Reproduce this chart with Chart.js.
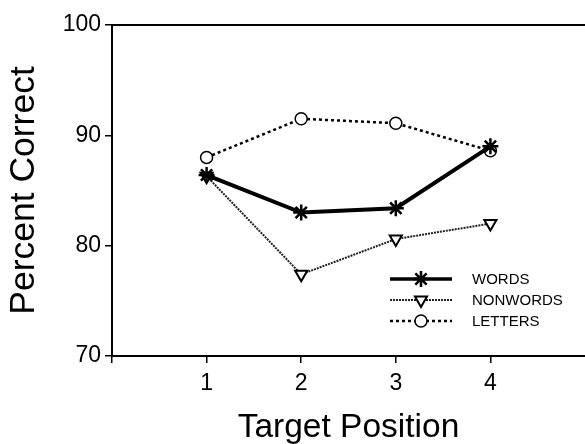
<!DOCTYPE html>
<html><head><meta charset="utf-8">
<style>html,body{margin:0;padding:0;background:#fff;overflow:hidden;}</style>
<script src="https://cdn.jsdelivr.net/npm/chart.js@4"></script>
</head><body>
<canvas id="c" width="585" height="444"></canvas>
<script>
// ---- data ----
const positions = [1, 2, 3, 4];
const xTickValues = [0, 1, 2, 3, 4];
const yTickValues = [70, 80, 90, 100];
const words = [86.4, 83.0, 83.4, 89.0];
const nonwords = [86.3, 77.4, 80.6, 82.0];
const letters = [88.0, 91.5, 91.1, 88.6];
const seriesNames = ['WORDS', 'NONWORDS', 'LETTERS'];
const xTitle = 'Target Position';
const yTitle = 'Percent Correct';

const FONT = "'Liberation Sans', Arial, Helvetica, sans-serif";
const toPts = vals => positions.map((p, i) => ({x: p, y: vals[i]}));

const datasets = [
  {label: seriesNames[0], data: toPts(words), borderColor: '#000', borderWidth: 4,
   pointStyle: 'star', pointRadius: 8, pointBorderWidth: 2.5, pointBackgroundColor: '#000',
   pointBorderColor: '#000', legendLineWidth: 3.5, legendDash: []},
  {label: seriesNames[1], data: toPts(nonwords), borderColor: '#222', borderWidth: 2,
   borderDash: [2, 1], pointStyle: 'triangle', pointRotation: 180, pointRadius: 7,
   pointBorderWidth: 2, pointBackgroundColor: '#fff', pointBorderColor: '#000',
   legendLineWidth: 2, legendDash: [2, 1]},
  {label: seriesNames[2], data: toPts(letters), borderColor: '#000', borderWidth: 2.5,
   borderDash: [3, 3], pointStyle: 'circle', pointRadius: 6, pointBorderWidth: 1.5,
   pointBackgroundColor: '#fff', pointBorderColor: '#000', legendLineWidth: 2.5, legendDash: [3, 3]}
];

const frame = {
  id: 'frame',
  afterDraw(chart) {
    const ctx = chart.ctx, a = chart.chartArea;
    ctx.save();
    ctx.strokeStyle = '#000'; ctx.lineWidth = 2;
    ctx.beginPath(); ctx.moveTo(a.left, a.top); ctx.lineTo(a.right, a.top); ctx.stroke();
    ctx.restore();
  }
};

const insetLegend = {
  id: 'insetLegend',
  afterDraw(chart) {
    const ctx = chart.ctx, a = chart.chartArea;
    const x0 = a.left + 278, x1 = x0 + 62, tx = x1 + 20;
    const y0 = a.top + 254;
    chart.data.datasets.forEach((ds, i) => {
      const y = y0 + i * 21;
      ctx.save();
      ctx.strokeStyle = ds.borderColor; ctx.lineWidth = ds.legendLineWidth;
      ctx.setLineDash(ds.legendDash);
      ctx.beginPath(); ctx.moveTo(x0, y); ctx.lineTo(x1, y); ctx.stroke();
      ctx.setLineDash([]);
      ctx.fillStyle = ds.pointBackgroundColor; ctx.strokeStyle = ds.pointBorderColor;
      ctx.lineWidth = ds.pointBorderWidth;
      if (Chart.helpers && Chart.helpers.drawPoint) {
        Chart.helpers.drawPoint(ctx, {pointStyle: ds.pointStyle, rotation: ds.pointRotation || 0,
          radius: ds.pointRadius, borderWidth: ds.pointBorderWidth}, (x0 + x1) / 2, y);
      }
      ctx.fillStyle = '#000';
      ctx.font = '15px ' + FONT;
      ctx.textBaseline = 'middle'; ctx.textAlign = 'left';
      ctx.fillText(ds.label, tx, y + 1);
      ctx.restore();
    });
  }
};

new Chart(document.getElementById('c'), {
  type: 'line',
  data: {datasets},
  plugins: [frame, insetLegend],
  options: {
    responsive: false, animation: false, devicePixelRatio: 1,
    layout: {autoPadding: false, padding: {top: 25, right: 0, left: 0, bottom: 0}},
    plugins: {legend: {display: false}, tooltip: {enabled: false}},
    scales: {
      x: {
        type: 'linear', min: 0, max: 5,
        afterBuildTicks: s => { s.ticks = xTickValues.map(v => ({value: v})); },
        afterFit: s => { s.height = 88; s.paddingLeft = 0; s.paddingRight = 0; },
        grid: {drawOnChartArea: false, drawTicks: true, tickLength: 7, color: '#000', lineWidth: 1.5},
        border: {color: '#000', width: 2},
        ticks: {color: '#000', font: {family: FONT, size: 23}, padding: 7,
                callback: v => (v === 0 ? '' : String(v))},
        title: {display: true, text: xTitle, color: '#000',
                font: {family: FONT, size: 33.5, lineHeight: 1.0},
                padding: {top: 0, bottom: -1}}
      },
      y: {
        min: 70, max: 100,
        afterBuildTicks: s => { s.ticks = yTickValues.map(v => ({value: v})); },
        afterFit: s => { s.width = 112; s.paddingTop = 0; s.paddingBottom = 0; },
        grid: {drawOnChartArea: false, drawTicks: true, tickLength: 7, color: '#000', lineWidth: 1.5},
        border: {color: '#000', width: 2},
        ticks: {color: '#000', font: {family: FONT, size: 23}, padding: 4},
        title: {display: true, text: yTitle, color: '#000', font: {family: FONT, size: 35.5},
                padding: {top: 3, bottom: 0}}
      }
    }
  }
});
</script>
</body></html>
